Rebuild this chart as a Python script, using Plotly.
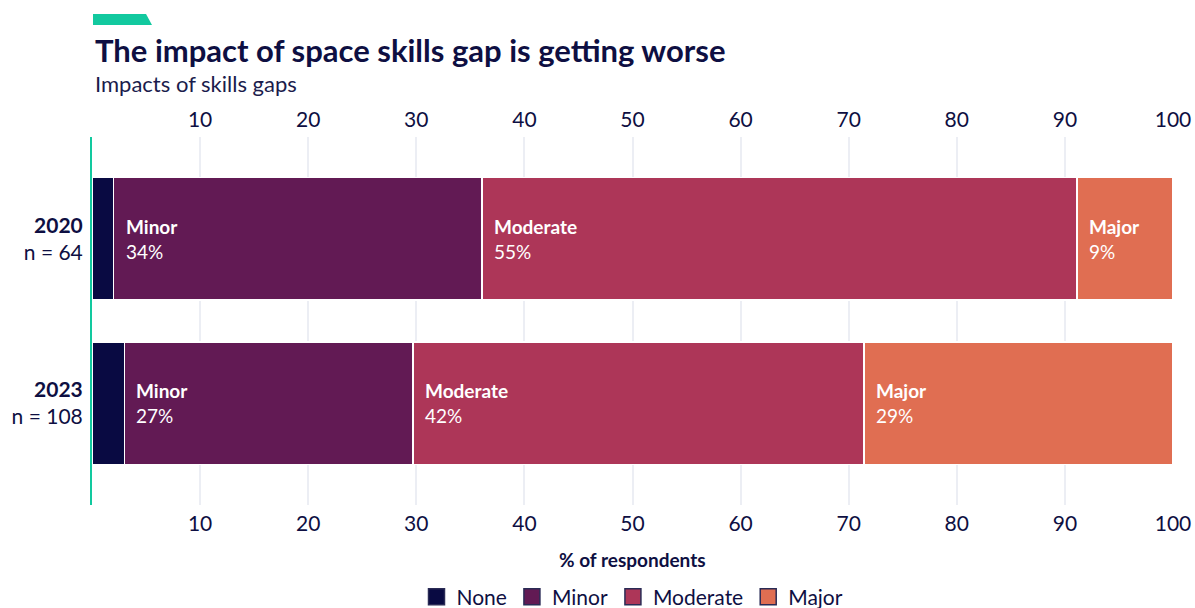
import plotly.graph_objects as go

# Survey data: share of respondents by impact level of skills gaps
years = ["2020", "2023"]
sample_sizes = [64, 108]
levels = ["None", "Minor", "Moderate", "Major"]
none_vals = [2.0, 3.0]
minor_vals = [34.1, 26.7]
moderate_vals = [55.0, 41.7]
major_vals = [8.9, 28.6]
series_values = [none_vals, minor_vals, moderate_vals, major_vals]
x_ticks = [10, 20, 30, 40, 50, 60, 70, 80, 90, 100]

colors = ["#090a42", "#621a54", "#ad3658", "#e06e52"]
ink = "#0e0f42"
font_family = "Lato, 'Noto Sans', sans-serif"
y_labels = [f"<b>{y}</b><br>n = {n}" for y, n in zip(years, sample_sizes)]

fig = go.Figure()

for name, vals, col in zip(levels, series_values, colors):
    fig.add_trace(go.Bar(
        y=y_labels, x=vals, name=name, orientation="h",
        marker=dict(color=col, line=dict(color="white", width=1.5)),
        showlegend=False, hoverinfo="x+name",
    ))
    # legend swatch (larger squares with a dark outline)
    fig.add_trace(go.Scatter(
        x=[None], y=[None], mode="markers", name=name,
        marker=dict(symbol="square", size=16, color=col,
                    line=dict(color="#2a2b55", width=1.5)),
        showlegend=True, hoverinfo="skip",
    ))

# empty trace so the mirrored top axis is drawn
fig.add_trace(go.Scatter(x=[None], y=[None], xaxis="x2", showlegend=False, hoverinfo="skip"))

# Segment labels: bold level name over the rounded percentage
annotations = []
for j in range(len(years)):
    start = 0.0
    for i, name in enumerate(levels):
        v = series_values[i][j]
        if name != "None":
            annotations.append(dict(
                x=start, y=j, xref="x", yref="y",
                text=f"<b>{name}</b><br>{round(v):.0f}%",
                showarrow=False, xanchor="left", yanchor="middle",
                align="left", xshift=10,
                font=dict(color="white", size=19, family=font_family),
            ))
        start += v

# Title, subtitle, axis title
annotations += [
    dict(text="<b>The impact of space skills gap is getting worse</b>",
         x=0.001, y=1.236, xref="paper", yref="paper", xanchor="left", yanchor="middle",
         showarrow=False, font=dict(size=31, color=ink, family=font_family)),
    dict(text="Impacts of skills gaps",
         x=0.001, y=1.146, xref="paper", yref="paper", xanchor="left", yanchor="middle",
         showarrow=False, font=dict(size=22, color="#1b1c4c", family=font_family)),
    dict(text="<b>% of respondents</b>",
         x=0.5, y=-0.147, xref="paper", yref="paper", xanchor="center", yanchor="middle",
         showarrow=False, font=dict(size=19, color=ink, family=font_family)),
]

axis_common = dict(
    range=[0, 100], tickvals=x_ticks, showgrid=True, gridcolor="#eceef4", gridwidth=2,
    zeroline=False, showline=False, ticks="", automargin=False,
    tickfont=dict(size=21, color=ink, family=font_family), fixedrange=True,
)

fig.update_layout(
    width=1195, height=608,
    margin=dict(l=92, r=22, t=137, b=103, autoexpand=False),
    paper_bgcolor="white", plot_bgcolor="white",
    barmode="stack", bargap=0.255,
    font=dict(family=font_family, color=ink),
    xaxis=dict(side="bottom", ticklabelstandoff=4, **axis_common),
    xaxis2=dict(side="top", overlaying="x", matches="x", anchor="y",
                ticklabelstandoff=5, **axis_common),
    yaxis=dict(
        type="category", range=[1.62, -0.62],
        tickfont=dict(size=21, color=ink, family=font_family),
        showgrid=False, zeroline=False, showline=True, linecolor="#12c99f", linewidth=2,
        ticks="", ticklabelstandoff=3, fixedrange=True, automargin=False,
    ),
    legend=dict(orientation="h", x=0.5, xanchor="center", y=-0.25, yanchor="middle",
                font=dict(size=21, color=ink, family=font_family), itemwidth=30,
                traceorder="normal"),
    annotations=annotations,
)

# Teal tab above the title (pixel geometry converted to paper units)
def px_to_paper(x, y):
    return (x - 92) / 1081, (505 - y) / 368

pts = [px_to_paper(93, 14), px_to_paper(146, 14), px_to_paper(152, 25), px_to_paper(93, 25)]
fig.add_shape(type="path", xref="paper", yref="paper",
              path="M " + " L ".join(f"{a:.4f},{b:.4f}" for a, b in pts) + " Z",
              line=dict(width=0), fillcolor="#12c99f")

fig.write_html("out.html")
